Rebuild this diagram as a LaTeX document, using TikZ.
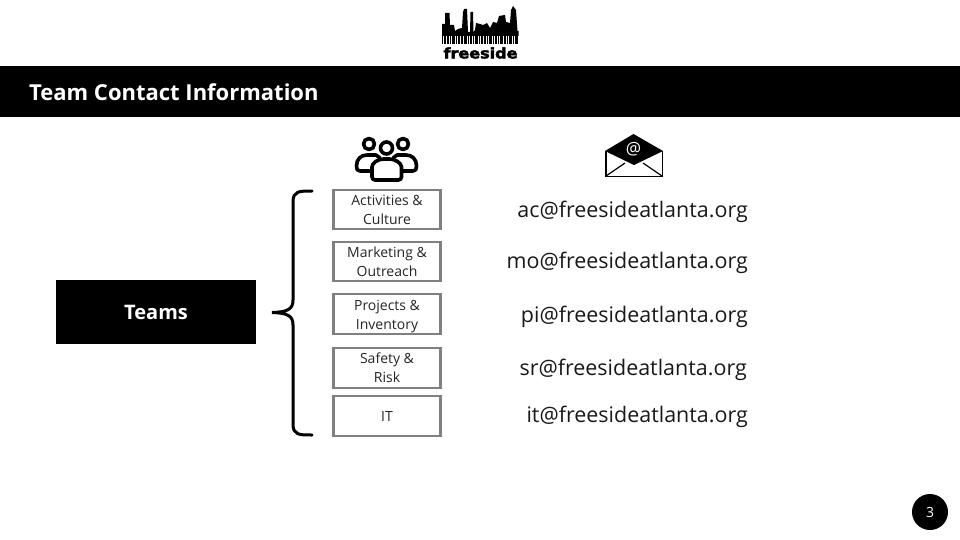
\documentclass[tikz,border=0pt]{standalone}
\usepackage{fontspec}
\setmainfont{Open Sans}
\newfontfamily\logofont[BoldFeatures={FakeBold=2.5}]{DejaVu Sans}
\newcommand{\topfill}{\rule{0pt}{15.3pt}}
\newcommand{\botfill}{\rule[-3.7pt]{0pt}{1pt}}
\tikzset{
  x=1pt,y=-1pt,
  teambox/.style={draw=black!50,line width=2.4pt,fill=white,minimum width=107pt,minimum height=39.5pt,inner sep=0pt,align=center,font=\fontsize{14pt}{19pt}\selectfont,text=black!85},
  mail/.style={anchor=east,font=\fontsize{21.45pt}{24pt}\selectfont,text=black!90,inner sep=0pt},
  icon/.style={draw=black,line width=3.6pt,line join=round,line cap=round,fill=white},
}
\begin{document}
\begin{tikzpicture}
\useasboundingbox (0,0) rectangle (960,540);
% logo
\fill[black] (442,36) -- (442,24) -- (445,24) -- (445,13) -- (449.5,13) -- (450,25) -- (454,25) -- (455,31) -- (458,29) -- (462,28) -- (463,12) -- (464,9) -- (467,9) -- (468,32) -- (470,32) -- (470.5,12) -- (473,12) -- (473.5,32) -- (475,30) -- (476,23) -- (480,24) -- (483,25) -- (487,23) -- (490,28) -- (493,22) -- (497,23) -- (499,16) -- (505,15) -- (506,22) -- (510,23) -- (511,10) -- (513,6) -- (516,10) -- (517,24) -- (517.5,31) -- (518.5,31) -- (518.5,36) -- cycle;
\foreach \bx/\bw in {442/1.2,444/1.8,447/2,450/1.2,452/2.5,456/1.2,458/2,461/1.8,464/2.5,468/1.2,470/2,473/1.2,475/2.5,479/1.2,481/1.8,484/2,487/1.2,489/2.5,493/1.2,495/2,498/1.2,500/2.5,504/1.8,507/1.2,509/2.5,513/1.2,515/2.5}
  \fill[black] (\bx,35) rectangle ++(\bw,9.5);
\node[inner sep=0pt] (logotext) at (480.5,53) {\resizebox{74pt}{11pt}{\logofont\bfseries freeside}};
% title bar
\node[fill=black,minimum width=960pt,minimum height=51pt,inner sep=0pt,anchor=north west] (bar) at (0,66) {};
\node[anchor=west,inner sep=0pt,text=white,font=\fontsize{22pt}{26pt}\selectfont\bfseries] (title) at (29,92) {Team Contact Information};
% people icon
\draw[icon] (373,171) -- (360,171) .. controls (357,171) and (356.5,169) .. (356.5,166) .. controls (356.5,159) and (361,155) .. (367,155) -- (376,155) -- (380,158);
\draw[icon] (400,171) -- (413,171) .. controls (416,171) and (416.5,169) .. (416.5,166) .. controls (416.5,159) and (412,155) .. (406,155) -- (397,155) -- (393,158);
\draw[icon] (369,144) circle (5.5);
\draw[icon] (403,144) circle (5.5);
\draw[icon,rounded corners=3pt] (372,180) -- (372,170) .. controls (372,163) and (378,159) .. (386.5,159) .. controls (395,159) and (401.5,163) .. (401.5,170) -- (401.5,180) -- cycle;
\draw[icon] (386.5,148) circle (6);
% envelope icon
\fill[black] (605,151) -- (633.5,134) -- (663,151) -- (634,165) -- cycle;
\draw[black,line width=1.8pt,line join=miter] (606,151) -- (606,176.5) -- (662.5,176.5) -- (662.5,151);
\draw[black,line width=1.2pt] (606,176) -- (625,163) (662,176) -- (643,163);
\node[inner sep=0pt,text=white,font=\fontsize{17pt}{17pt}\selectfont] (at) at (633.5,149.5) {@};
% teams
\node[fill=black,text=white,minimum width=200pt,minimum height=64pt,inner sep=0pt,font=\fontsize{20pt}{24pt}\selectfont\bfseries] (teams) at (156,312) {\raisebox{-1pt}{Teams}};
% brace
\draw[black,line width=3pt,line cap=round] (312,191) .. controls (299,191) and (293,191) .. (293,202) -- (293,300) .. controls (293,309) and (288,312) .. (272,312.5) .. controls (288,313) and (293,316) .. (293,325) -- (293,424) .. controls (293,435) and (299,435) .. (312,435);
% boxes
\node[teambox] (b1) at (387,209.5) {\topfill Activities \&\\Culture\botfill};
\node[teambox] (b2) at (387,261.5) {\topfill Marketing \&\\Outreach\botfill};
\node[teambox] (b3) at (387,314) {\topfill Projects \&\\Inventory\botfill};
\node[teambox] (b4) at (387,368) {\rule{0pt}{14.3pt}Safety \&\\Risk\rule[-4.7pt]{0pt}{1pt}};
\node[teambox] (b5) at (387,416) {IT};
% mails
\node[mail] (m1) at (748,211.5) {ac@freesideatlanta.org};
\node[mail] (m2) at (748,263) {mo@freesideatlanta.org};
\node[mail] (m3) at (748,317) {pi@freesideatlanta.org};
\node[mail] (m4) at (747,369.5) {sr@freesideatlanta.org};
\node[mail] (m5) at (748,417) {it@freesideatlanta.org};
% page number
\node[circle,fill=black,text=white,minimum size=36pt,inner sep=0pt,font=\fontsize{14pt}{16pt}\selectfont] (page) at (930,512) {3};
\end{tikzpicture}
\end{document}
